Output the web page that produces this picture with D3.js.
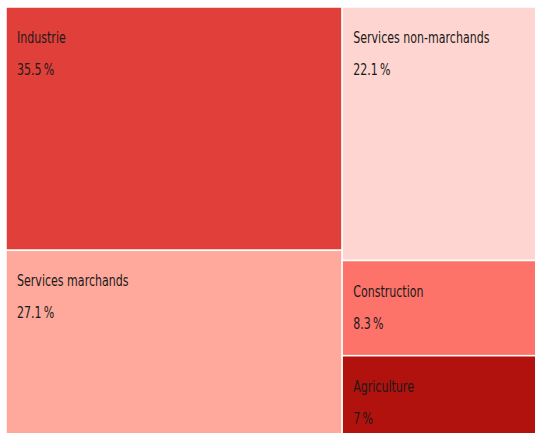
<!DOCTYPE html>
<html>
<head>
<meta charset="utf-8">
<script src="https://cdn.jsdelivr.net/npm/d3@7"></script>
<style>
  body { margin: 0; background: #fff; }
  svg text { font-family: "DejaVu Sans", sans-serif; fill: #1a1a1a; }
</style>
</head>
<body>
<div id="chart"></div>
<script>
// secteurs, part en %
const sectors = ["Industrie", "Services marchands", "Services non-marchands", "Construction", "Agriculture"]
const shares = [35.5, 27.1, 22.1, 8.3, 7]
const columns = ["gauche", "gauche", "droite", "droite", "droite"]
const colors = ["#e1403a", "#fea99c", "#fed5d0", "#fe7369", "#b1120d"]

window.onload = function(){

    const width = 535, height = 433

    const svg = d3.select("#chart")
    .append("svg")
        .attr("width", width)
        .attr("height", height)

    const data = sectors.map((s, i) => ({name: s, value: shares[i], col: columns[i], color: colors[i]}))

    const groups = d3.group(data, d => d.col)
    const root = d3.hierarchy({children: Array.from(groups, ([k, v]) => ({name: k, children: v}))})
        .sum(d => d.value || 0)

    d3.treemap()
        .tile(d3.treemapSliceDice)
        .size([537, 429])
        .round(false)(root)

    const g = svg.append("g").attr("transform", "translate(6, 7)")

    const cell = g.selectAll("g")
        .data(root.leaves()).enter()
        .append("g")
        .attr("transform", d => `translate(${d.x0}, ${d.y0})`)

    cell.append("rect")
        .attr("width", d => d.x1 - d.x0)
        .attr("height", d => d.y1 - d.y0)
        .attr("fill", d => d.data.color)
        .attr("stroke", "#fff")
        .attr("stroke-width", 1.5)

    // police condensée : on resserre horizontalement
    cell.append("text")
        .attr("transform", "translate(11, 36) scale(0.7, 1)")
        .attr("font-size", 15.8)
        .text(d => d.data.name)

    cell.append("text")
        .attr("transform", "translate(11, 68) scale(0.7, 1)")
        .attr("font-size", 15.8)
        .text(d => d.data.value + "\u2009%")
}
</script>
</body>
</html>
